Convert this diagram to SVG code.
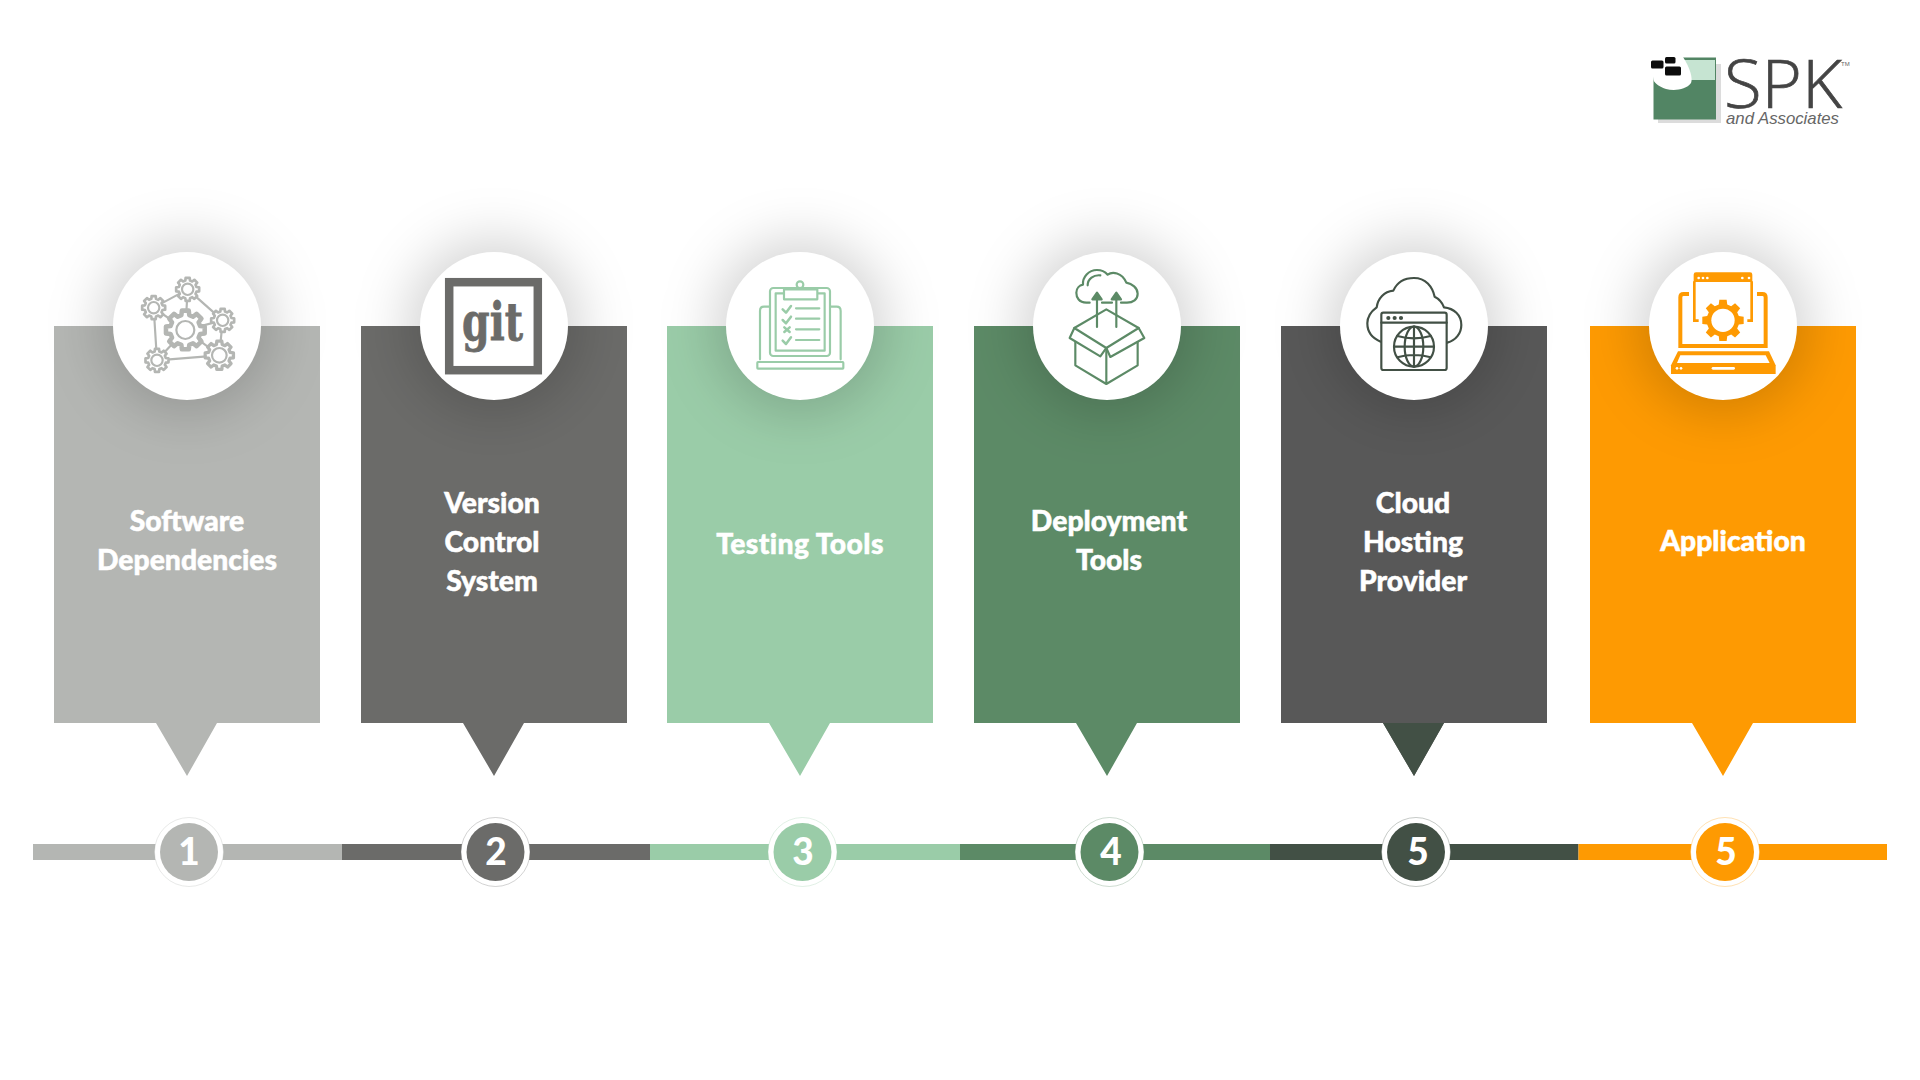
<svg xmlns="http://www.w3.org/2000/svg" xmlns:xlink="http://www.w3.org/1999/xlink" width="1920" height="1080" viewBox="0 0 1920 1080">
<style>
.lbl{font-family:"Lato","Liberation Sans",sans-serif;font-weight:900;font-size:28.300px;fill:#fff;stroke:#fff;stroke-width:.5;text-anchor:middle}
.num{font-family:"Lato","Liberation Sans",sans-serif;font-weight:900;font-size:37px;fill:#fff;text-anchor:middle}
.disc{fill:#fff}
.shadow{fill:#000;fill-opacity:.165;filter:url(#blur)}
.ring{fill:#fff;stroke-width:1;stroke-opacity:.3}
.ico{fill:none;stroke-width:6.500;stroke-linecap:round;stroke-linejoin:round}
.gearline{fill:#fff;stroke:#b4b6b3;stroke-width:2.300px;vector-effect:non-scaling-stroke;stroke-linejoin:round}
</style>
<defs>
<filter id="blur" x="-80%" y="-80%" width="260%" height="260%"><feGaussianBlur stdDeviation="26"/></filter>
<polygon id="gear" points="7.53,-2.02 9.85,-1.74 9.85,1.74 7.53,2.02 6.75,3.9 8.19,5.74 5.74,8.19 3.9,6.75 2.02,7.53 1.74,9.85 -1.74,9.85 -2.02,7.53 -3.9,6.75 -5.74,8.19 -8.19,5.74 -6.75,3.9 -7.53,2.02 -9.85,1.74 -9.85,-1.74 -7.53,-2.02 -6.75,-3.9 -8.19,-5.74 -5.74,-8.19 -3.9,-6.75 -2.02,-7.53 -1.74,-9.85 1.74,-9.85 2.02,-7.53 3.9,-6.75 5.74,-8.19 8.19,-5.74 6.75,-3.9"/>
</defs>
<rect width="1920" height="1080" fill="#fff"/>

<g id="logo">
<rect x="1658" y="64" width="63" height="59" fill="#dcdcdc"/>
<rect x="1653.5" y="57.5" width="62.5" height="62" fill="#528564"/>
<rect x="1683" y="60" width="32" height="20" fill="#c6e4d2"/>
<path d="M1650,57 H1683 C1690,68 1693,78 1691,83 C1686,90 1674,91 1666,89 C1660,87 1655,84 1653.500,80 Z" fill="#fff"/>
<rect x="1651" y="60.500" width="12.500" height="8" rx="1.500" fill="#0c0c0c"/>
<rect x="1665" y="57" width="10.500" height="6.500" rx="1.500" fill="#0c0c0c"/>
<rect x="1665" y="66.500" width="16" height="9" rx="1.500" fill="#0c0c0c"/>
<text x="1724" y="108" font-family="'Open Sans','Liberation Sans',sans-serif" font-weight="300" font-size="66" fill="#444" stroke="#444" stroke-width=".7" textLength="118" lengthAdjust="spacingAndGlyphs">SPK</text>
<text x="1841" y="66" font-family="'Liberation Sans',sans-serif" font-size="6" fill="#666">TM</text>
<text x="1726" y="124" font-family="'Liberation Sans',sans-serif" font-style="italic" font-size="17" fill="#666" textLength="113" lengthAdjust="spacingAndGlyphs">and Associates</text>
</g>

<g id="connectors">
<rect x="33" y="844" width="309" height="16" fill="#b4b6b3"/>
<rect x="342" y="844" width="308" height="16" fill="#6b6b69"/>
<rect x="650" y="844" width="310" height="16" fill="#9acca8"/>
<rect x="960" y="844" width="310" height="16" fill="#5c8a66"/>
<rect x="1270" y="844" width="308.500" height="16" fill="#425045"/>
<rect x="1578.500" y="844" width="308.500" height="16" fill="#fe9a02"/>
</g>

<g id="node-1">
<path d="M54,326H320V723H217L187,776L156,723H54Z" fill="#b4b6b3"/>
<circle class="shadow" cx="187" cy="326" r="88"/>
<circle class="disc" cx="187" cy="326" r="74"/>
<g transform="translate(127,266) scale(.3333)">
<path class="ico" stroke="#b4b6b3" d="M182,70L80,125M182,70L175,192M182,70L287,163M80,125L175,192M80,125L90,283M287,163L175,192M287,163L277,268M175,192L90,283M175,192L277,268M90,283L277,268"/>
<use href="#gear" class="gearline" transform="translate(175,192) scale(5.9)"/><circle cx="175" cy="192" r="27" fill="#fff" stroke="#b4b6b3" stroke-width="6.500"/>
<use href="#gear" class="gearline" transform="translate(182,70) scale(3.5)"/><circle cx="182" cy="70" r="17" fill="#fff" stroke="#b4b6b3" stroke-width="6.500"/>
<use href="#gear" class="gearline" transform="translate(80,125) scale(3.5)"/><circle cx="80" cy="125" r="17" fill="#fff" stroke="#b4b6b3" stroke-width="6.500"/>
<use href="#gear" class="gearline" transform="translate(287,163) scale(3.5)"/><circle cx="287" cy="163" r="17" fill="#fff" stroke="#b4b6b3" stroke-width="6.500"/>
<use href="#gear" class="gearline" transform="translate(90,283) scale(3.5)"/><circle cx="90" cy="283" r="17" fill="#fff" stroke="#b4b6b3" stroke-width="6.500"/>
<use href="#gear" class="gearline" transform="translate(277,268) scale(4.3)"/><circle cx="277" cy="268" r="22" fill="#fff" stroke="#b4b6b3" stroke-width="6.500"/>
</g>
<text class="lbl" x="187" y="531">Software</text>
<text class="lbl" x="187" y="570">Dependencies</text>
</g>

<g id="node-2">
<path d="M361,326H627V723H524L494,776L463,723H361Z" fill="#6b6b69"/>
<circle class="shadow" cx="494" cy="326" r="88"/>
<circle class="disc" cx="494" cy="326" r="74"/>
<rect x="449.200" y="282.200" width="88.600" height="88" fill="none" stroke="#6b6b69" stroke-width="8.500"/>
<text x="462" y="340" font-family="'DejaVu Serif',serif" font-weight="700" font-size="52" fill="#6b6b69" stroke="#6b6b69" stroke-width=".8" textLength="61" lengthAdjust="spacingAndGlyphs">git</text>
<text class="lbl" x="492" y="513">Version</text>
<text class="lbl" x="492" y="552">Control</text>
<text class="lbl" x="492" y="591">System</text>
</g>

<g id="node-3">
<path d="M667,326H933V723H830L800,776L769,723H667Z" fill="#9acca8"/>
<circle class="shadow" cx="800" cy="326" r="88"/>
<circle class="disc" cx="800" cy="326" r="74"/>
<g transform="translate(740,266) scale(.3333)" class="ico" stroke="#9acca8">
<path d="M60,280V135Q60,122 72,122H88M272,122H290Q302,122 302,135V280"/>
<rect x="52" y="288" width="258" height="20" rx="2"/>
<rect x="90" y="66" width="180" height="204" rx="10"/>
<rect x="107" y="82" width="147" height="172"/>
<circle cx="180" cy="56" r="10" fill="#fff"/>
<rect x="132" y="70" width="100" height="30" fill="#fff"/>
<path d="M168,127H238M168,158H238M168,190H238M168,222H238"/>
<path d="M128,130L138,140L153,120M128,162L138,172L153,152M128,224L138,234L153,214M133,184L149,198M149,184L133,198" stroke-width="7.500"/>
</g>
<text class="lbl" x="800" y="553.500" letter-spacing=".4">Testing Tools</text>
</g>

<g id="node-4">
<path d="M974,326H1240V723H1137L1107,776L1076,723H974Z" fill="#5c8a66"/>
<circle class="shadow" cx="1107" cy="326" r="88"/>
<circle class="disc" cx="1107" cy="326" r="74"/>
<g transform="translate(1047,262) scale(.3333)" class="ico" stroke="#5c8a66">
<path d="M128,122H118C95,122 88,105 88,92C88,78 98,70 108,68C106,45 125,24 150,24C165,24 175,30 182,38C195,28 225,30 238,62C255,65 272,78 272,95C272,112 258,122 240,122H222M165,122H195"/>
<path d="M122,70C122,50 140,38 160,40"/>
<path d="M82,198L178,142L275,198L178,258Z"/>
<path d="M82,198L68,228L160,283L178,258L190,285L292,228L275,198"/>
<path d="M85,240V310L178,366L272,310V240M178,258V366"/>
<path d="M150,195V100M208,195V100"/>
<path d="M136,112L150,92L164,112ZM194,112L208,92L222,112Z" fill="#5c8a66"/>
</g>
<text class="lbl" x="1109" y="531">Deployment</text>
<text class="lbl" x="1109" y="570">Tools</text>
</g>

<g id="node-5">
<path d="M1281,326H1547V723H1444L1414,776L1383,723H1281Z" fill="#585858"/>
<path d="M1383,723H1444L1414,776Z" fill="#425045"/>
<circle class="shadow" cx="1414" cy="326" r="88"/>
<circle class="disc" cx="1414" cy="326" r="74"/>
<g transform="translate(1354,270) scale(.3333)" class="ico" stroke="#425045">
<path d="M80,215C55,205 40,185 40,160C40,140 50,125 68,112C72,85 90,65 118,62C130,35 155,24 180,24C215,24 235,50 242,80C258,88 265,98 270,112C300,115 322,135 322,165C322,190 305,212 280,218"/>
<rect x="82" y="128" width="196" height="172" rx="6" fill="#fff"/>
<path d="M82,158H278"/>
<circle cx="103" cy="144" r="3"/><circle cx="122" cy="144" r="3"/><circle cx="141" cy="144" r="3"/>
<circle cx="180" cy="230" r="60"/>
<ellipse cx="180" cy="230" rx="28" ry="60"/>
<path d="M120,230H240M180,170V290M130,198Q180,212 230,198M130,262Q180,248 230,262"/>
</g>
<text class="lbl" x="1413" y="513">Cloud</text>
<text class="lbl" x="1413" y="552">Hosting</text>
<text class="lbl" x="1413" y="591">Provider</text>
</g>

<g id="node-6">
<path d="M1590,326H1856V723H1753L1723,776L1692,723H1590Z" fill="#fe9a02"/>
<circle class="shadow" cx="1723" cy="326" r="88"/>
<circle class="disc" cx="1723" cy="326" r="74"/>
<g transform="translate(1663,268) scale(.3333)">
<path d="M92,42V20Q92,13 99,13H261Q268,13 268,20V42Z" fill="#fe9a02"/>
<path d="M94,40V158H107M266,40V158H253" fill="none" stroke="#fe9a02" stroke-width="8"/>
<g fill="#fff"><circle cx="107" cy="30" r="4"/><circle cx="120" cy="30" r="4"/><circle cx="133" cy="30" r="4"/><circle cx="238" cy="30" r="4"/><circle cx="258" cy="30" r="4"/></g>
<path d="M78,78H62Q52,78 52,88V234H308V88Q308,78 298,78H282" fill="none" stroke="#fe9a02" stroke-width="12"/>
<use href="#gear" fill="#fe9a02" transform="translate(180,157) scale(6.300)"/>
<circle cx="180" cy="157" r="35" fill="#fff"/>
<path d="M45,250H318L338,292V318H24V292Z" fill="#fe9a02"/>
<path d="M52,262H308L320,285H42Z" fill="#fff"/>
<circle cx="42" cy="301" r="4" fill="#fff"/><circle cx="54" cy="301" r="4" fill="#fff"/>
<rect x="146" y="297" width="70" height="8" rx="4" fill="#fff"/>
</g>
<text class="lbl" x="1733" y="551">Application</text>
</g>

<g id="step-1"><circle class="ring" cx="189" cy="852" r="34.500" stroke="#b4b6b3"/><circle cx="189" cy="852" r="29" fill="#b4b6b3"/><text class="num" x="189" y="865">1</text></g>
<g id="step-2"><circle class="ring" cx="495.500" cy="852" r="34.500" stroke="#6b6b69"/><circle cx="495.500" cy="852" r="29" fill="#6b6b69"/><text class="num" x="496" y="865">2</text></g>
<g id="step-3"><circle class="ring" cx="802.500" cy="852" r="34.500" stroke="#9acca8"/><circle cx="802.500" cy="852" r="29" fill="#9acca8"/><text class="num" x="803" y="865">3</text></g>
<g id="step-4"><circle class="ring" cx="1109.500" cy="852" r="34.500" stroke="#5c8a66"/><circle cx="1109.500" cy="852" r="29" fill="#5c8a66"/><text class="num" x="1111" y="865">4</text></g>
<g id="step-5"><circle class="ring" cx="1416" cy="852" r="34.500" stroke="#425045"/><circle cx="1416" cy="852" r="29" fill="#425045"/><text class="num" x="1418" y="865">5</text></g>
<g id="step-6"><circle class="ring" cx="1725" cy="852" r="34.500" stroke="#fe9a02"/><circle cx="1725" cy="852" r="29" fill="#fe9a02"/><text class="num" x="1726" y="865">5</text></g>
</svg>
